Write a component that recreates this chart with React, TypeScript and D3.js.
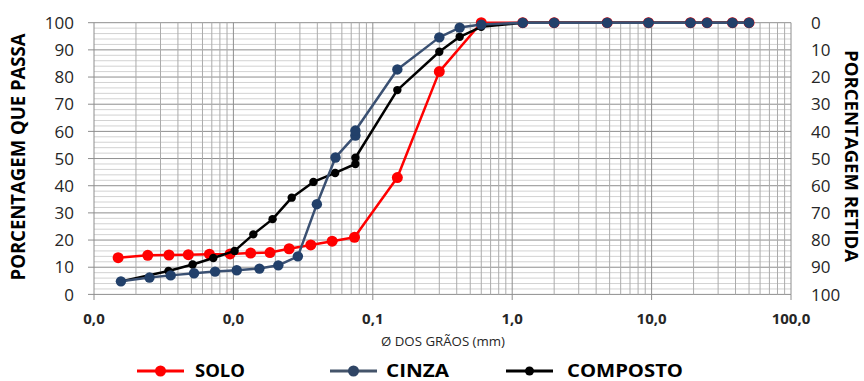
import React from "react";
import * as d3 from "d3";

const soloD = [0.00149, 0.00243, 0.00345, 0.00475, 0.00673, 0.00947, 0.0133, 0.0183, 0.0251, 0.0359, 0.0511, 0.0739, 0.15, 0.3, 0.6, 1.19, 2.0, 4.8, 9.5, 19, 25, 38, 50];
const soloP = [13.5, 14.4, 14.5, 14.6, 14.8, 14.9, 15.2, 15.4, 16.8, 18.2, 19.6, 21.0, 43.0, 82.0, 100, 100, 100, 100, 100, 100, 100, 100, 100];

const cinzaD = [0.00156, 0.0025, 0.00355, 0.00522, 0.00739, 0.01057, 0.01537, 0.021, 0.029, 0.0397, 0.054, 0.075, 0.075, 0.15, 0.3, 0.42, 0.6, 1.19, 2.0, 4.8, 9.5, 19, 25, 38, 50];
const cinzaP = [4.8, 6.2, 7.0, 7.8, 8.4, 8.9, 9.5, 10.7, 14.0, 33.2, 50.4, 58.5, 60.3, 82.8, 94.6, 98.2, 99.3, 100, 100, 100, 100, 100, 100, 100, 100];

const compD = [0.00156, 0.00342, 0.0051, 0.00718, 0.0102, 0.0139, 0.0191, 0.0262, 0.0375, 0.0537, 0.075, 0.075, 0.15, 0.3, 0.42, 0.6, 1.19, 2.0, 4.8, 9.5, 19, 25, 38, 50];
const compP = [4.8, 8.6, 11.0, 13.4, 16.0, 22.1, 27.7, 35.6, 41.4, 44.7, 48.0, 50.3, 75.2, 89.3, 94.8, 98.5, 100, 100, 100, 100, 100, 100, 100, 100];

const xTicks = [0.001, 0.01, 0.1, 1, 10, 100];
const xTickLabels = ["0,0", "0,0", "0,1", "1,0", "10,0", "100,0"];
const yTicks = [0, 10, 20, 30, 40, 50, 60, 70, 80, 90, 100];

const FONT = "'Open Sans', 'DejaVu Sans', sans-serif";

export default function App() {
  const x = d3.scaleLog().domain([0.001, 100]).range([94, 791]);
  const y = d3.scaleLinear().domain([0, 100]).range([294.4, 22.7]);
  const yR = d3.scaleLinear().domain([100, 0]).range([294.4, 22.7]);

  const vGrid: { v: number; major: boolean }[] = [];
  for (let e = -3; e < 2; e++) {
    for (let k = 1; k <= 9; k++) {
      vGrid.push({ v: k * Math.pow(10, e), major: k === 1 });
    }
  }
  vGrid.push({ v: 100, major: true });
  const hGrid = d3.range(0, 101, 2);

  const line = d3
    .line<[number, number]>()
    .x((d) => x(d[0]))
    .y((d) => y(d[1]));

  const series = [
    { name: "SOLO", D: soloD, P: soloP, color: "#ff0000", mark: "#ff0000", r: 5.5 },
    { name: "COMPOSTO", D: compD, P: compP, color: "#000000", mark: "#000000", r: 4.2 },
    { name: "CINZA", D: cinzaD, P: cinzaP, color: "#3a5072", mark: "#22406a", r: 5.2 },
  ];

  const legend = [
    { name: "SOLO", color: "#ff0000", mark: "#ff0000", r: 5.5, x0: 137, tx: 195, tl: 50 },
    { name: "CINZA", color: "#44546a", mark: "#2f4565", r: 5.5, x0: 330, tx: 386, tl: 63 },
    { name: "COMPOSTO", color: "#000000", mark: "#000000", r: 4.5, x0: 506, tx: 567, tl: 116 },
  ];

  return (
    <div style={{ position: "fixed", left: 0, top: 0 }}>
      <svg width={864} height={381} style={{ display: "block", background: "#fff" }}>
        {hGrid.map((v) => (
          <line
            key={"h" + v}
            x1={94}
            x2={791}
            y1={y(v)}
            y2={y(v)}
            stroke={v % 10 === 0 ? "#8e8e8e" : "#d2d2d2"}
            strokeWidth={1}
          />
        ))}
        {vGrid.map((g, i) => (
          <line
            key={"v" + i}
            x1={x(g.v)}
            x2={x(g.v)}
            y1={22.7}
            y2={294.4}
            stroke={g.major ? "#8e8e8e" : "#ababab"}
            strokeWidth={1}
          />
        ))}
        {yTicks.map((t) => (
          <line key={"lt" + t} x1={88} x2={94} y1={y(t)} y2={y(t)} stroke="#8e8e8e" />
        ))}
        {xTicks.map((t) => (
          <line key={"bt" + t} x1={x(t)} x2={x(t)} y1={294.4} y2={300} stroke="#8e8e8e" />
        ))}
        {yTicks.map((t) => (
          <text
            key={"ll" + t}
            x={74}
            y={y(t)}
            dy="0.36em"
            textAnchor="end"
            fontFamily={FONT}
            fontSize={17}
            fill="#262626"
          >
            {t}
          </text>
        ))}
        {yTicks.map((t) => (
          <text
            key={"rl" + t}
            x={811}
            y={yR(t)}
            dy="0.36em"
            textAnchor="start"
            fontFamily={FONT}
            fontSize={17}
            fill="#262626"
          >
            {t}
          </text>
        ))}
        {xTicks.map((t, i) => (
          <text
            key={"xl" + t}
            x={x(t)}
            y={324}
            textAnchor="middle"
            fontFamily={FONT}
            fontWeight="bold"
            fontSize={15}
            fill="#262626"
          >
            {xTickLabels[i]}
          </text>
        ))}
        <text
          transform="translate(25,157) rotate(-90)"
          textAnchor="middle"
          fontFamily={FONT}
          fontWeight="bold"
          fontSize={19}
          fill="#000"
          textLength={247}
          lengthAdjust="spacingAndGlyphs"
        >
          PORCENTAGEM QUE PASSA
        </text>
        <text
          transform="translate(845,156) rotate(90)"
          textAnchor="middle"
          fontFamily={FONT}
          fontWeight="bold"
          fontSize={18}
          fill="#000"
          textLength={212}
          lengthAdjust="spacingAndGlyphs"
        >
          PORCENTAGEM RETIDA
        </text>
        <text
          x={443}
          y={346}
          textAnchor="middle"
          fontFamily={FONT}
          fontSize={13.5}
          fill="#262626"
          textLength={124}
          lengthAdjust="spacingAndGlyphs"
        >
          Ø DOS GRÃOS (mm)
        </text>
        {series.map((s) => {
          const pts: [number, number][] = s.D.map((d, i) => [d, s.P[i]]);
          return (
            <g key={s.name}>
              <path d={line(pts) || ""} fill="none" stroke={s.color} strokeWidth={2.5} strokeLinejoin="round" />
              {pts.map((p, i) => (
                <circle key={i} cx={x(p[0])} cy={y(p[1])} r={s.r} fill={s.mark} />
              ))}
            </g>
          );
        })}
        {legend.map((l) => (
          <g key={"lg" + l.name}>
            <line x1={l.x0} x2={l.x0 + 47} y1={371} y2={371} stroke={l.color} strokeWidth={3} />
            <circle cx={l.x0 + 23.5} cy={371} r={l.r} fill={l.mark} />
            <text
              x={l.tx}
              y={371}
              dy="0.36em"
              fontFamily={FONT}
              fontWeight="bold"
              fontSize={18}
              fill="#000"
              textLength={l.tl}
              lengthAdjust="spacingAndGlyphs"
            >
              {l.name}
            </text>
          </g>
        ))}
      </svg>
    </div>
  );
}
